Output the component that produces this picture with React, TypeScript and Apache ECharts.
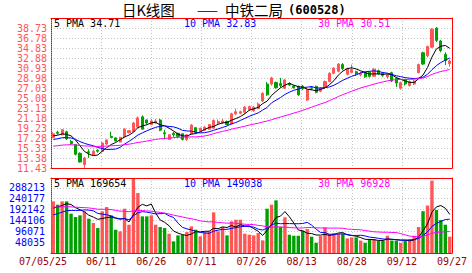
import React, { useEffect, useRef } from "react";
import * as echarts from "echarts";

// ---- data (中铁二局 600528, 2007-05-25 .. 2007-09-27) ----
const DATES = [
  "05/25", "05/28", "05/29", "05/30", "05/31", "06/01", "06/04", "06/05", "06/06", "06/07",
  "06/08", "06/11", "06/12", "06/13", "06/14", "06/15", "06/18", "06/19", "06/20", "06/21",
  "06/22", "06/25", "06/26", "06/27", "06/28", "06/29", "07/02", "07/03", "07/04", "07/05",
  "07/06", "07/09", "07/10", "07/11", "07/12", "07/13", "07/16", "07/17", "07/18", "07/19",
  "07/20", "07/23", "07/24", "07/25", "07/26", "07/27", "07/30", "07/31", "08/01", "08/02",
  "08/03", "08/06", "08/07", "08/08", "08/09", "08/10", "08/13", "08/14", "08/15", "08/16",
  "08/17", "08/20", "08/21", "08/22", "08/23", "08/24", "08/27", "08/28", "08/29", "08/30",
  "08/31", "09/03", "09/04", "09/05", "09/06", "09/07", "09/10", "09/11", "09/12", "09/13",
  "09/14", "09/17", "09/18", "09/19", "09/20", "09/21", "09/24", "09/25", "09/26", "09/27",
];

const OPEN = [
  17.4, 18.4, 17.9, 18.5, 16.6, 16.0, 14.3, 12.1, 14.6, 14.0,
  14.9, 14.7, 16.1, 17.6, 17.3, 16.5, 17.5, 18.3, 18.5, 19.4,
  21.4, 20.8, 19.9, 20.2, 20.8, 18.3, 17.0, 18.2, 18.2, 18.1,
  17.0, 18.1, 19.3, 18.6, 18.8, 19.0, 19.2, 20.2, 20.3, 20.5,
  20.0, 22.0, 22.1, 22.3, 22.8, 22.6, 23.0, 24.5, 27.8, 27.8,
  28.1, 27.9, 27.0, 27.9, 27.4, 27.35, 27.4, 24.7, 27.1, 27.35,
  26.4, 27.2, 28.3, 29.9, 30.3, 31.6, 29.7, 30.1, 30.2, 29.6,
  30.0, 30.1, 29.3, 30.4, 29.9, 29.2, 30.0, 28.9, 27.0, 28.6,
  27.5, 27.8, 30.0, 33.9, 33.3, 35.0, 38.7, 36.2, 33.6, 31.8,
];
const CLOSE = [
  18.1, 18.2, 18.9, 17.1, 16.2, 14.1, 12.6, 13.4, 14.4, 14.7,
  14.7, 16.3, 16.9, 17.4, 16.7, 17.4, 19.0, 18.7, 20.2, 21.2,
  19.0, 20.2, 20.6, 20.6, 18.8, 18.1, 17.9, 17.9, 17.6, 17.0,
  17.9, 19.8, 18.4, 19.2, 19.4, 19.9, 20.7, 20.5, 20.6, 19.9,
  22.0, 22.4, 22.4, 23.3, 23.4, 23.3, 23.9, 26.0, 25.7, 29.0,
  27.1, 27.5, 28.6, 27.6, 27.1, 25.7, 26.9, 26.7, 27.0, 26.2,
  27.0, 28.3, 29.9, 30.9, 31.7, 30.8, 30.8, 30.6, 29.8, 29.9,
  29.2, 29.3, 30.7, 29.8, 29.5, 29.6, 28.4, 28.0, 28.1, 27.8,
  28.3, 28.4, 31.6, 31.7, 35.1, 38.5, 36.3, 34.3, 32.4, 32.3,
];
const LOW = [
  17.2, 17.9, 17.8, 16.9, 15.9, 13.9, 12.5, 11.45, 13.4, 13.9,
  14.4, 14.6, 15.9, 17.3, 16.6, 16.4, 17.4, 18.2, 18.4, 19.3,
  18.9, 19.9, 19.8, 20.1, 18.6, 17.0, 16.9, 17.5, 17.3, 16.8,
  16.7, 18.0, 18.2, 18.5, 18.7, 18.9, 19.1, 19.9, 20.0, 19.8,
  19.9, 21.7, 21.9, 22.0, 22.6, 22.4, 22.9, 24.3, 25.5, 27.5,
  26.9, 27.1, 26.8, 27.4, 26.9, 25.5, 26.6, 24.5, 26.6, 26.0,
  26.2, 27.0, 28.1, 29.7, 30.1, 30.5, 29.5, 29.9, 29.4, 29.3,
  29.0, 29.1, 29.2, 29.6, 29.2, 28.9, 28.2, 27.2, 26.7, 27.5,
  27.3, 27.6, 29.9, 31.5, 33.0, 34.8, 36.0, 34.0, 31.5, 31.2,
];
const HIGH = [
  18.4, 18.7, 19.0, 18.7, 16.9, 16.1, 14.5, 13.6, 15.1, 15.0,
  15.1, 16.5, 17.0, 18.5, 17.4, 17.5, 19.2, 18.8, 20.4, 21.5,
  21.7, 20.9, 21.0, 21.0, 21.0, 18.9, 18.0, 18.5, 18.3, 18.2,
  18.0, 20.0, 19.4, 19.3, 19.6, 20.0, 20.9, 20.9, 21.0, 20.7,
  22.2, 23.0, 22.6, 23.5, 23.6, 23.5, 24.2, 26.2, 28.2, 29.2,
  28.3, 29.0, 28.8, 28.1, 27.6, 27.5, 27.6, 27.0, 27.4, 27.5,
  27.2, 28.5, 30.1, 31.1, 31.9, 31.9, 31.0, 31.6, 30.4, 30.2,
  30.2, 30.3, 30.9, 30.6, 30.1, 29.9, 30.2, 29.1, 28.3, 28.8,
  28.5, 28.6, 31.8, 34.1, 35.3, 38.7, 38.9, 36.4, 34.0, 32.6,
];
const VOLUME = [
  228600, 213800, 228600, 228600, 174000, 159200, 166600, 184300, 151800, 132600,
  110500, 184300, 203500, 166600, 103100, 95700, 196100, 125300, 328000, 265400,
  162200, 162200, 166600, 125300, 114900, 110500, 85400, 51500, 78000, 81000,
  92800, 117900, 103100, 73600, 92800, 95700, 179900, 95700, 114900, 78000,
  140000, 147400, 147400, 85400, 81000, 78000, 88400, 55900, 196100, 213800,
  233000, 116400, 157700, 81000, 76500, 76500, 98700, 106000, 72100, 45000,
  75000, 113400, 84000, 86900, 84000, 84000, 64700, 69100, 69100, 55000,
  45000, 61800, 61800, 55000, 55000, 76500, 55000, 55000, 45000, 55000,
  60000, 75000, 115000, 185000, 210000, 320000, 190200, 145900, 125200, 72100,
];

// moving-average periods and the level each average line starts at on the first bar
const MA_PERIODS = [5, 10, 30];
const PRICE_MA_START = [17.7, 17.0, 15.7];
const VOLUME_MA_START = [199000, 169000, 203000];

// axis ticks / labels
const PRICE_AXIS = { min: 11.43, max: 40.68, step: 1.95 };
const VOLUME_AXIS = { min: 0, max: 332000, step: 48035.5, lastLabel: 288213 };
const DATE_TICKS = ["07/05/25", "06/11", "06/26", "07/11", "07/26", "08/13", "08/28", "09/12", "09/27"];

// texts
const TITLE_PARTS = ["日K线图", "——", "中铁二局", "(600528)"];
const PRICE_LEGEND = ["5 PMA 34.71", "10 PMA 32.83", "30 PMA 30.51"];
const VOLUME_LEGEND = ["5 PMA 169654", "10 PMA 149038", "30 PMA 96928"];

// ---- styles ----
const RED = "#ff5555";
const GREEN = "#00a000";
const BORDER = "#ff0000";
const GRIDLINE = "#c4c4c4";
const DATE_COLOR = "#a00000";
const MA_COLORS = ["#000000", "#0000ff", "#ff00ff"];
const MONO = '"DejaVu Sans Mono", monospace';
const CJK = '"Noto Sans CJK SC", sans-serif';

function movingAverage(values: number[], n: number, start: number): number[] {
  // level of the (unseen) values before the first bar, implied by the line's start value
  const prior = (start * n - values[0]) / (n - 1);
  return values.map((_, i) => {
    let s = 0;
    for (let k = i - n + 1; k <= i; k++) s += k >= 0 ? values[k] : prior;
    return +(s / n).toFixed(3);
  });
}

function buildOption(): any {
  const gridLine = { color: GRIDLINE, width: 1, type: [1, 2] };
  const solidBorder = { color: BORDER, width: 1 };
  const dottedBorder = { color: BORDER, width: 1, type: [1, 1] };

  const catAxis = (gridIndex: number) => ({
    type: "category",
    gridIndex,
    data: DATES,
    position: "top",
    boundaryGap: true,
    axisLine: { show: true, onZero: false, lineStyle: solidBorder },
    axisTick: { show: false },
    axisLabel: { show: false },
    splitLine: { show: false },
  });
  const tickAxis = (gridIndex: number, labels: boolean) => ({
    type: "value",
    gridIndex,
    min: 0,
    max: DATE_TICKS.length - 1,
    interval: 1,
    position: "bottom",
    axisLine: { show: true, onZero: false, lineStyle: solidBorder },
    axisTick: { show: false },
    axisLabel: labels
      ? {
          show: true,
          margin: 3,
          color: DATE_COLOR,
          fontFamily: MONO,
          fontSize: 10,
          showMinLabel: true,
          showMaxLabel: true,
          alignMinLabel: "center",
          alignMaxLabel: "center",
          formatter: (v: number) =>
            v === 0 ? "{first|" + DATE_TICKS[0] + "}" : DATE_TICKS[Math.round(v)] ?? "",
          rich: {
            first: { padding: [0, 16, 0, 0], color: DATE_COLOR, fontFamily: MONO, fontSize: 10 },
          },
        }
      : { show: false },
    splitLine: { show: true, showMinLine: false, showMaxLine: false, lineStyle: gridLine },
  });
  const rightAxis = (gridIndex: number) => ({
    type: "value",
    gridIndex,
    min: 0,
    max: 1,
    position: "right",
    axisLine: { show: true, onZero: false, lineStyle: solidBorder },
    axisTick: { show: false },
    axisLabel: { show: false },
    splitLine: { show: false },
  });

  const candles = DATES.map((_, i) => [OPEN[i], CLOSE[i], LOW[i], HIGH[i]]);
  const volBars = VOLUME.map((v, i) => ({
    value: v,
    itemStyle: { color: CLOSE[i] >= OPEN[i] ? RED : GREEN },
  }));

  const priceMA = MA_PERIODS.map((n, k) => movingAverage(CLOSE, n, PRICE_MA_START[k]));
  const volumeMA = MA_PERIODS.map((n, k) => movingAverage(VOLUME, n, VOLUME_MA_START[k]));

  const lineSeries = (data: number[], color: string, xi: number, yi: number) => ({
    type: "line",
    xAxisIndex: xi,
    yAxisIndex: yi,
    data,
    symbol: "none",
    smooth: false,
    silent: true,
    z: 3,
    lineStyle: { color, width: 1 },
  });

  const text = (x: number, y: number, t: string, fill: string, font: string, va = "middle") => ({
    type: "text",
    x,
    y,
    silent: true,
    z: 10,
    style: { text: t, fill, font, align: "left", verticalAlign: va },
  });

  return {
    animation: false,
    backgroundColor: "#ffffff",
    grid: [
      { left: 51, top: 18, width: 401, height: 150, show: false },
      { left: 51, top: 178, width: 401, height: 75, show: false },
    ],
    xAxis: [catAxis(0), tickAxis(0, false), catAxis(1), tickAxis(1, true)],
    yAxis: [
      {
        type: "value",
        gridIndex: 0,
        min: PRICE_AXIS.min,
        max: PRICE_AXIS.max,
        interval: PRICE_AXIS.step,
        position: "left",
        axisLine: { show: true, onZero: false, lineStyle: dottedBorder },
        axisTick: { show: false },
        axisLabel: {
          margin: 4,
          color: RED,
          fontFamily: MONO,
          fontSize: 10,
          showMinLabel: true,
          showMaxLabel: true,
          formatter: (v: number) => (v > PRICE_AXIS.max - PRICE_AXIS.step / 2 ? "" : v.toFixed(2)),
        },
        splitLine: { show: true, showMinLine: false, showMaxLine: false, lineStyle: gridLine },
      },
      rightAxis(0),
      {
        type: "value",
        gridIndex: 1,
        min: VOLUME_AXIS.min,
        max: VOLUME_AXIS.max,
        interval: VOLUME_AXIS.step,
        position: "left",
        axisLine: { show: true, onZero: false, lineStyle: dottedBorder },
        axisTick: { show: false },
        axisLabel: {
          margin: 6,
          color: "#0000ff",
          fontFamily: MONO,
          fontSize: 10,
          showMinLabel: true,
          showMaxLabel: true,
          formatter: (v: number) => (v <= 0 || v > VOLUME_AXIS.lastLabel + 1 ? "" : String(Math.floor(v))),
        },
        splitLine: { show: true, showMinLine: false, showMaxLine: false, lineStyle: gridLine },
      },
      rightAxis(1),
    ],
    series: [
      {
        type: "candlestick",
        xAxisIndex: 0,
        yAxisIndex: 0,
        data: candles,
        barWidth: 2.6,
        silent: true,
        z: 2,
        itemStyle: { color: RED, color0: GREEN, borderColor: RED, borderColor0: GREEN, borderWidth: 1 },
      },
      ...priceMA.map((d, k) => lineSeries(d, MA_COLORS[k], 0, 0)),
      {
        type: "bar",
        xAxisIndex: 2,
        yAxisIndex: 2,
        data: volBars,
        barWidth: 3.4,
        silent: true,
        z: 2,
      },
      ...volumeMA.map((d, k) => lineSeries(d, MA_COLORS[k], 2, 2)),
    ],
    graphic: [
      text(122, 9, TITLE_PARTS[0], "#000", `14.5px ${CJK}`),
      text(197, 9, TITLE_PARTS[1], "#000", `12.5px ${CJK}`),
      text(225, 9, TITLE_PARTS[2], "#000", `14.5px ${CJK}`),
      text(288, 9.5, TITLE_PARTS[3], "#000", `bold 12px ${MONO}`),
      text(54, 23.5, PRICE_LEGEND[0], MA_COLORS[0], `10px ${MONO}`),
      text(184, 23.5, PRICE_LEGEND[1], MA_COLORS[1], `10px ${MONO}`),
      text(318, 23.5, PRICE_LEGEND[2], MA_COLORS[2], `10px ${MONO}`),
      text(54, 183, VOLUME_LEGEND[0], MA_COLORS[0], `10px ${MONO}`),
      text(184, 183, VOLUME_LEGEND[1], MA_COLORS[1], `10px ${MONO}`),
      text(318, 183, VOLUME_LEGEND[2], MA_COLORS[2], `10px ${MONO}`),
    ],
  };
}

export default function App() {
  const ref = useRef<HTMLDivElement>(null);
  useEffect(() => {
    if (!ref.current) return;
    const chart = echarts.init(ref.current, undefined, { renderer: "svg" });
    chart.setOption(buildOption());
    return () => chart.dispose();
  }, []);
  return (
    <div
      ref={ref}
      style={{ position: "fixed", left: 0, top: 0, width: 472, height: 273, background: "#fff" }}
    />
  );
}
